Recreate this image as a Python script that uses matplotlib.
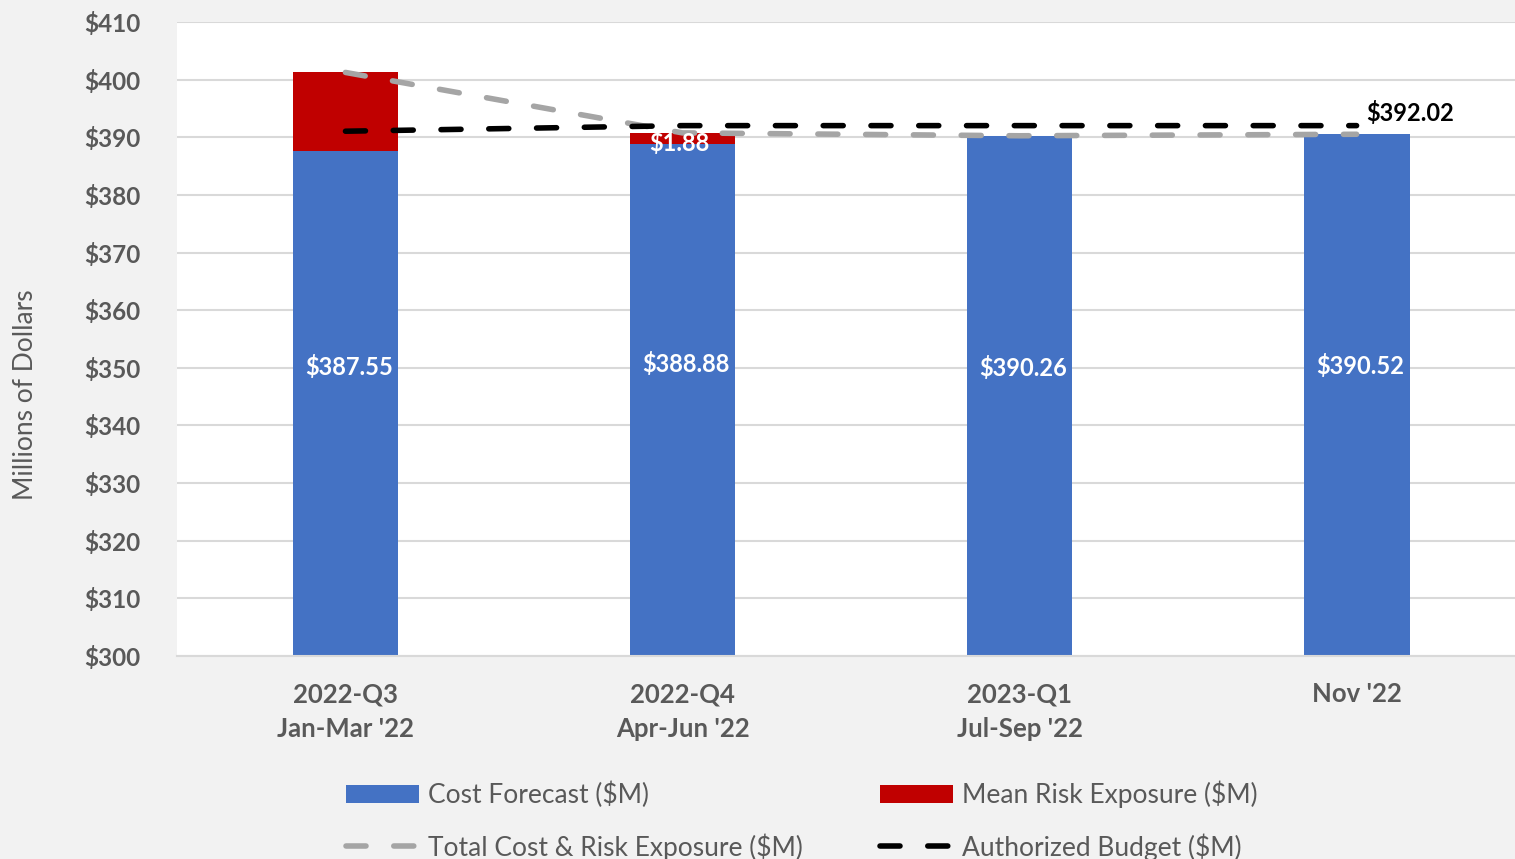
import matplotlib.pyplot as plt
import numpy as np

# Dados
categories = ["2022-Q3\nJan-Mar '22", "2022-Q4\nApr-Jun '22", "2023-Q1\nJul-Sep '22", "Nov '22"]
cost_forecast = [387.55, 388.88, 390.26, 390.52]
risk_exposure = [13.70, 1.88, 0.0, 0.0]
total_cost_risk = [401.25, 390.76, 390.26, 390.52]
authorized_budget = [391.05, 392.02, 392.02, 392.02]
cost_labels = ["$387.55", "$388.88", "$390.26", "$390.52"]
cost_label_y = [350.1, 350.6, 350.0, 350.3]

plt.rcParams['font.family'] = ['Lato', 'DejaVu Sans']
text_gray = '#595959'

fig = plt.figure(figsize=(15.15, 8.59), dpi=100)
fig.patch.set_facecolor('#f2f2f2')
ax = fig.add_axes([0.1168, 0.2363, 0.8832, 0.7381])
ax.set_facecolor('white')

x = np.arange(len(categories))
width = 0.314
base = 300

b1 = ax.bar(x, np.array(cost_forecast) - base, width, bottom=base, color='#4472c4',
            label='Cost Forecast ($M)', zorder=2)
b2 = ax.bar(x, risk_exposure, width, bottom=cost_forecast, color='#c00000',
            label='Mean Risk Exposure ($M)', zorder=2)
l1, = ax.plot(x, total_cost_risk, color='#a5a5a5', linewidth=4.0, dashes=(3.6, 5.0),
              dash_capstyle='round', label='Total Cost & Risk Exposure ($M)', zorder=3)
l2, = ax.plot(x, authorized_budget, color='black', linewidth=4.0, dashes=(3.6, 5.0),
              dash_capstyle='round', label='Authorized Budget ($M)', zorder=4)

# Rótulos
for xi, lab, ly in zip(x, cost_labels, cost_label_y):
    ax.text(xi + 0.01, ly, lab, ha='center', va='center', color='white',
            fontsize=17, fontweight='bold', zorder=5)
ax.text(x[1] - 0.01, cost_forecast[1] + 0.1, "$1.88", ha='center', va='center',
        color='white', fontsize=17, fontweight='bold', zorder=5)
ax.text(x[3] + 0.03, authorized_budget[3] + 0.1, "$392.02", ha='left',
        va='bottom', color='black', fontsize=17, fontweight='bold', zorder=5)

ax.set_ylim(300, 410)
ax.set_xlim(-0.5, 3.47)
ax.set_yticks(np.arange(300, 411, 10))
ax.set_yticklabels([f"${v}" for v in range(300, 411, 10)])
ax.set_xticks(x)
ax.set_xticklabels(categories, linespacing=1.55)
ax.tick_params(axis='y', length=0, labelsize=17.5, labelcolor=text_gray, pad=26)
ax.tick_params(axis='x', length=0, labelsize=18.5, labelcolor=text_gray, pad=19)
for lab in ax.get_xticklabels() + ax.get_yticklabels():
    lab.set_fontweight('bold')

ax.grid(axis='y', color='#d9d9d9', linewidth=1.5, zorder=0)
ax.set_axisbelow(True)
for s in ['top', 'right', 'left']:
    ax.spines[s].set_visible(False)
ax.spines['bottom'].set_color('#d9d9d9')
ax.spines['bottom'].set_linewidth(1.5)

fig.text(0.017, 0.54, 'Millions of Dollars', rotation=90, ha='center',
         va='center', fontsize=19, color=text_gray)

# ordem: coluna 1 = Cost, Total ; coluna 2 = Risk, Budget
fig.legend([b1, l1, b2, l2],
           ['Cost Forecast ($M)', 'Total Cost & Risk Exposure ($M)',
            'Mean Risk Exposure ($M)', 'Authorized Budget ($M)'],
           loc='upper left', bbox_to_anchor=(0.2128, 0.119), ncol=2,
           frameon=False, fontsize=19, labelcolor=text_gray,
           handlelength=2.75, handletextpad=0.35, columnspacing=2.94,
           labelspacing=0.95)

plt.savefig('out.png', dpi=100, facecolor=fig.get_facecolor())
